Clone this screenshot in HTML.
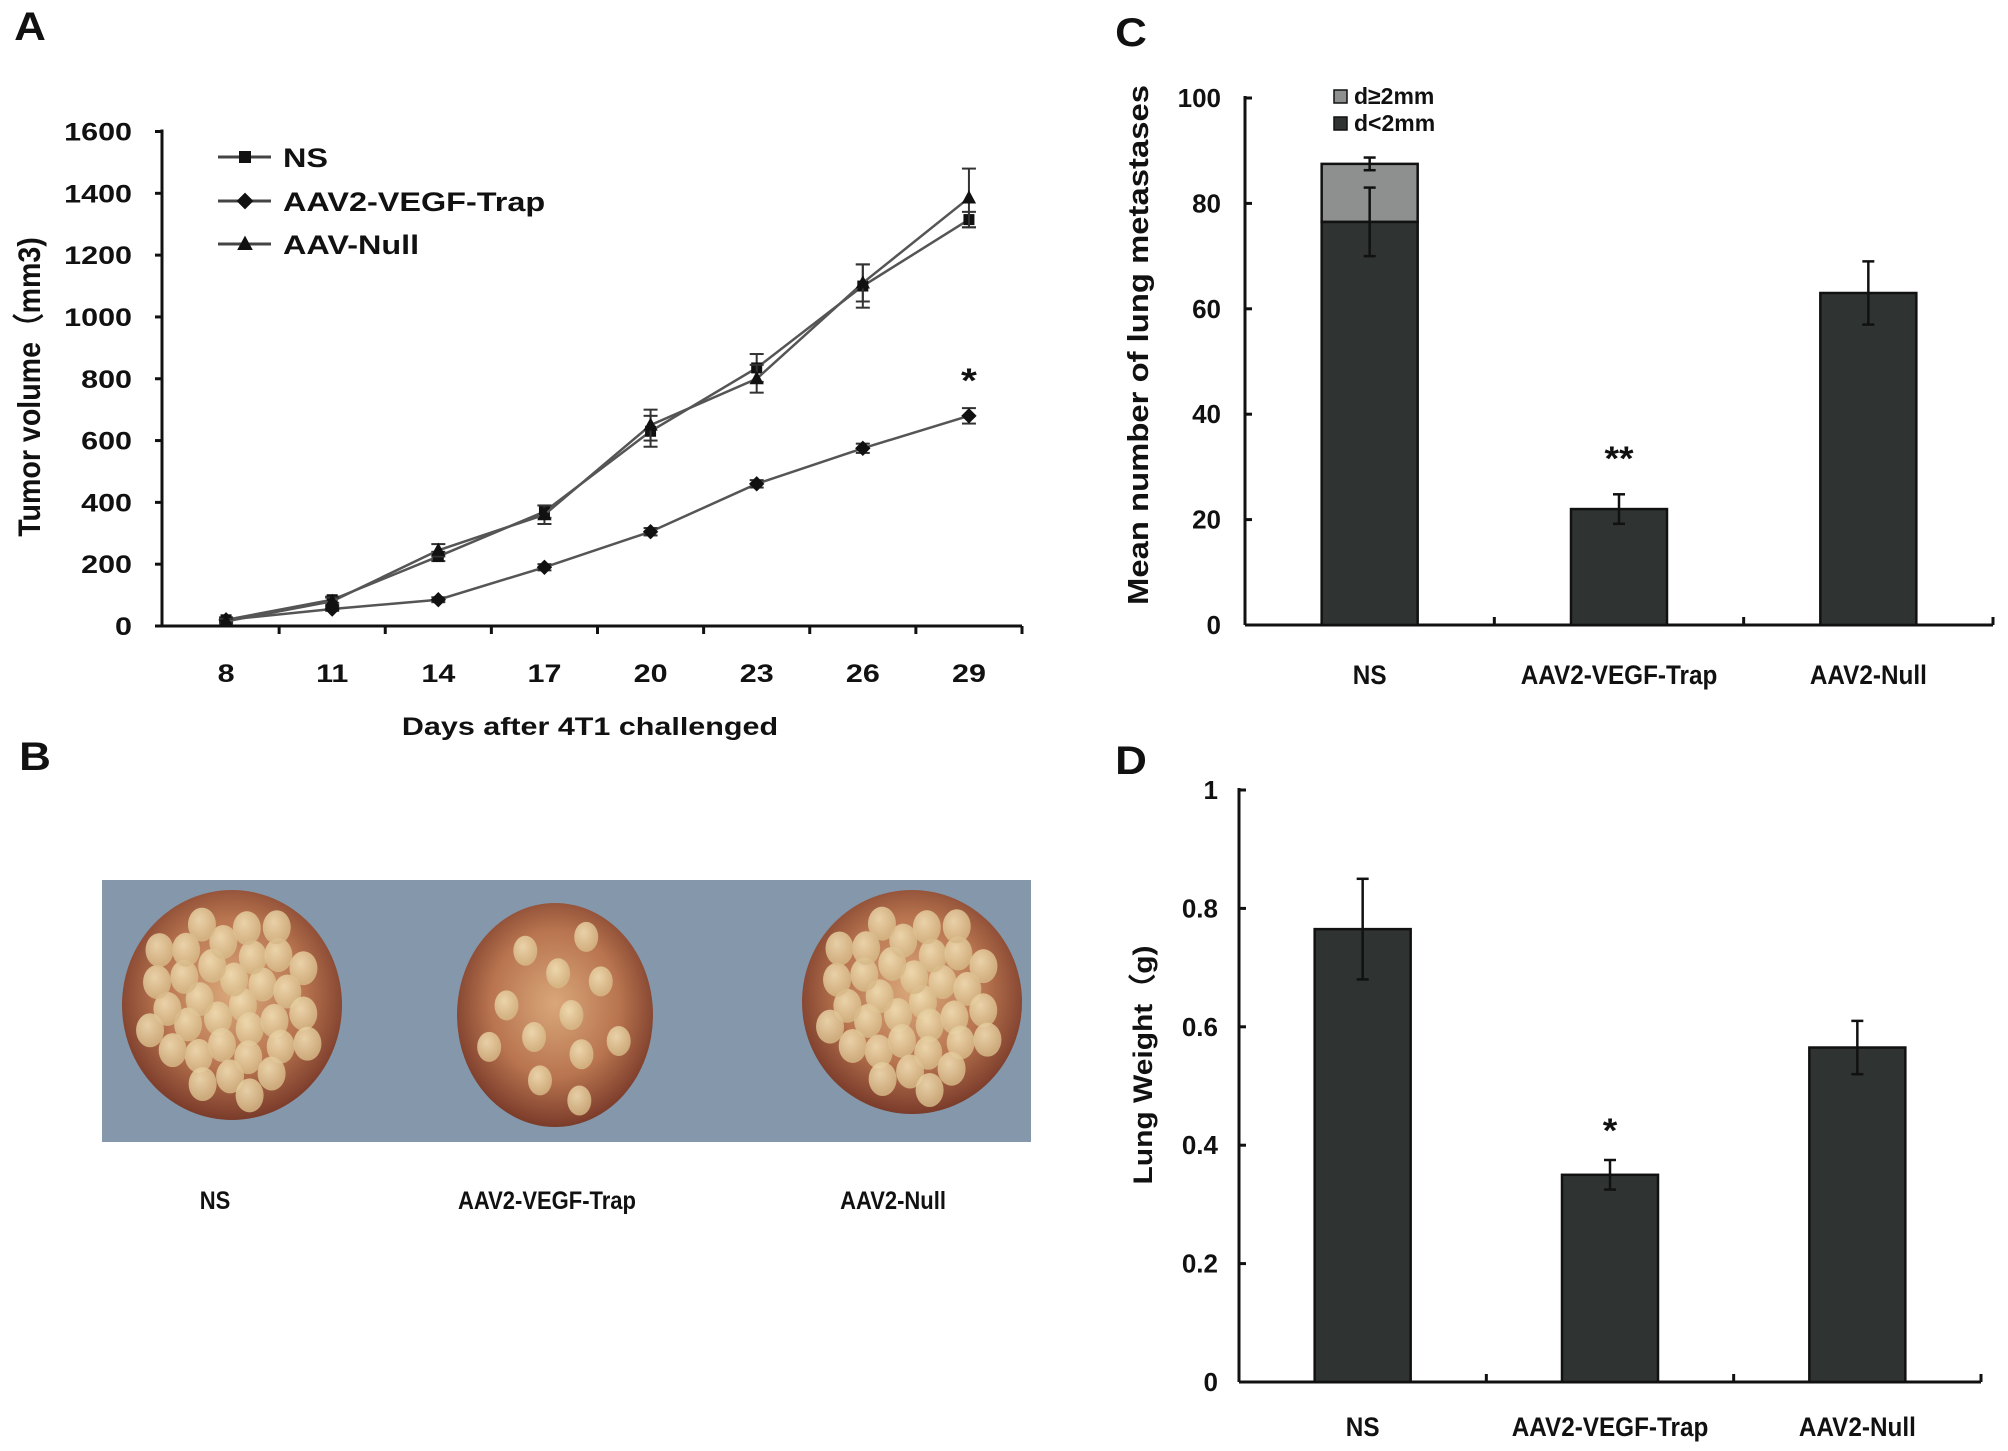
<!DOCTYPE html>
<html><head><meta charset="utf-8"><style>
html,body{margin:0;padding:0;background:#fff;}
svg{display:block;}
text{font-family:"Liberation Sans",Arial,sans-serif;font-weight:bold;fill:#111;}
</style></head><body>
<svg id="fig" width="2008" height="1451" viewBox="0 0 2008 1451" xmlns="http://www.w3.org/2000/svg">
<defs>
<radialGradient id="lungg" cx="50%" cy="45%" r="55%"><stop offset="0%" stop-color="#d9a77a"/><stop offset="60%" stop-color="#b8744f"/><stop offset="100%" stop-color="#7a3b2a"/></radialGradient>
<radialGradient id="nod" cx="40%" cy="35%" r="60%"><stop offset="0%" stop-color="#f3e2b8"/><stop offset="100%" stop-color="#d7b987"/></radialGradient>
<clipPath id="photoclip"><rect x="102" y="880" width="929" height="262"/></clipPath>
</defs>
<g id="panelA"></g>
<g id="panelB"></g>
<g id="panelC"></g>
<g id="panelD"></g>
</svg>
<script>
// ---------- Panel A data ----------
const daysA = ["8","11","14","17","20","23","26","29"];
const yTicksA = [0,200,400,600,800,1000,1200,1400,1600];
const nsVals = [20,85,225,370,630,835,1100,1315];
const nsErr = [8,10,15,20,50,45,70,25];
const vegfVals = [20,55,85,190,305,460,575,680];
const vegfErr = [5,6,8,10,12,12,15,25];
const nullVals = [15,80,245,360,650,800,1110,1385];
const nullErr = [8,12,20,30,50,45,60,95];
const seriesNames = ["NS","AAV2-VEGF-Trap","AAV-Null"];
// ---------- Panel C data ----------
const groupsC = ["NS","AAV2-VEGF-Trap","AAV2-Null"];
const smallVals = [76.5,22,63];
const smallErr = [6.5,2.8,6];
const largeVals = [11,0,0];
const largeErr = [1.2,0,0];
const yTicksC = [0,20,40,60,80,100];
// ---------- Panel D data ----------
const groupsD = ["NS","AAV2-VEGF-Trap","AAV2-Null"];
const weightVals = [0.765,0.35,0.565];
const weightErr = [0.085,0.025,0.045];
const yTicksD = ["0","0.2","0.4","0.6","0.8","1"];

const NS='http://www.w3.org/2000/svg';
function el(parent,tag,attrs){const e=document.createElementNS(NS,tag);for(const k in attrs)e.setAttribute(k,attrs[k]);parent.appendChild(e);return e;}
function txt(parent,x,y,s,size,anchor,sx,name){
  const t=el(parent,'text',{transform:`translate(${x},${y}) scale(${sx||1},1)`,'font-size':size,'text-anchor':anchor||'middle'});
  t.textContent=s;
  
  
  return t;
}
function line(p,x1,y1,x2,y2,w,c,name){const l=el(p,'line',{x1,y1,x2,y2,stroke:c||'#111','stroke-width':w||3});return l;}

// ===== Panel A =====
(function(){
  const g=document.getElementById('panelA');
  const xa=162,x0=173,x1=1022,y0=626,yTop=131.5,ymax=1600;
  const n=daysA.length,cw=(x1-x0)/n;
  const X=i=>x0+cw*(i+0.5);
  const Y=v=>y0-(v/ymax)*(y0-yTop);
  const SX=1.22;
  txt(g,30,40,"A",40,'middle',1.1,'panel-label-a');
  line(g,xa,Y(ymax)-2,xa,y0,3,'#111','y-axis');
  line(g,xa,y0,x1,y0,3,'#111','x-axis');
  yTicksA.forEach(v=>{line(g,xa-7,Y(v),xa,Y(v),3,'#111','y-tick');txt(g,xa-30,Y(v)+9,String(v),25,'end',SX,'y-tick-label');});
  for(let i=1;i<=n;i++){line(g,x0+cw*i,y0,x0+cw*i,y0+8,3,'#111','x-tick');}
  daysA.forEach((d,i)=>txt(g,X(i),682,d,25,'middle',SX,'x-tick-label'));
  txt(g,590,735,"Days after 4T1 challenged",25,'middle',SX,'x-axis-title');
  const yt=txt(g,40,387,"Tumor volume（mm3)",26,'middle',1,'y-axis-title');
  yt.setAttribute('transform','translate(40,387) rotate(-90) scale(1.1,1.2)');
  yt.setAttribute('font-family','"Liberation Sans","Noto Sans CJK SC",sans-serif');
  function marker(p,type,x,y,s){
    let m;
    if(type==='sq') m=el(p,'rect',{x:x-s/2,y:y-s/2,width:s,height:s,fill:'#111'});
    else if(type==='di') m=el(p,'polygon',{points:`${x},${y-s*0.7} ${x+s*0.7},${y} ${x},${y+s*0.7} ${x-s*0.7},${y}`,fill:'#111'});
    else m=el(p,'polygon',{points:`${x},${y-s*0.7} ${x+s*0.65},${y+s*0.5} ${x-s*0.65},${y+s*0.5}`,fill:'#111'});
    
    
  }
  const series=[[nsVals,nsErr,'sq'],[vegfVals,vegfErr,'di'],[nullVals,nullErr,'tri']];
  series.forEach(([vals,err,mk],si)=>{
    const sg=el(g,'g',{});
    
    
    const pl=el(sg,'polyline',{points:vals.map((v,i)=>X(i)+','+Y(v)).join(' '),fill:'none',stroke:'#555','stroke-width':2.5});
    
    
    vals.forEach((v,i)=>{
      const x=X(i);
      line(sg,x,Y(v+err[i]),x,Y(v-err[i]),2,'#333','error-bar');
      line(sg,x-7,Y(v+err[i]),x+7,Y(v+err[i]),2,'#333','error-cap');
      line(sg,x-7,Y(v-err[i]),x+7,Y(v-err[i]),2,'#333','error-cap');
      marker(sg,mk,x,Y(v),11);
    });
  });
  txt(g,X(7),392,"*",34,'middle',1.2,'significance-star');
  const lg=el(g,'g',{});
  
  
  const ly=[157,201,244],mks=['sq','di','tri'];
  seriesNames.forEach((s,i)=>{
    line(lg,218,ly[i],271,ly[i],3,'#444','legend-line');
    marker(lg,mks[i],245,ly[i],12);
    txt(lg,283,ly[i]+10,s,27,'start',1.2,'legend-entry');
  });
})();

// ===== Panel B =====
(function(){
  const g=document.getElementById('panelB');
  txt(g,35,770,"B",40,'middle',1.1,'panel-label-b');
  const r=el(g,'rect',{x:102,y:880,width:929,height:262,fill:'#8597ab'});
  
  
  const ph=el(g,'g',{'clip-path':'url(#photoclip)'});
  
  
  const lungs=[[232,1005,110,115],[555,1015,98,112],[912,1002,110,112]];
  lungs.forEach(([cx,cy,rx,ry],k)=>{
    const e=el(ph,'ellipse',{cx,cy,rx,ry,fill:'url(#lungg)'});
    
    
    const nn=k===1?12:34;
    for(let j=0;j<nn;j++){
      const a=j*2.399, rr=Math.sqrt((j+0.5)/nn)*0.82;
      const c=el(ph,'ellipse',{cx:cx+Math.cos(a)*rx*rr,cy:cy+Math.sin(a)*ry*rr,rx:k===1?12:14,ry:k===1?15:17,fill:'url(#nod)',opacity:0.85});
      
      
    }
  });
  const labs=["NS","AAV2-VEGF-Trap","AAV2-Null"],lx=[215,547,893];
  labs.forEach((s,i)=>txt(g,lx[i],1209,s,25,'middle',0.88,'photo-label'));
})();

// ===== Bar panel helper =====
function barPanel(g,cfg){
  const {x0,x1,y0,yTop,ymax,cats,ticks,tickVals}=cfg;
  const n=cats.length,cw=(x1-x0)/n;
  const X=i=>x0+cw*(i+0.5);
  const Y=v=>y0-(v/ymax)*(y0-yTop);
  line(g,x0,Y(ymax)-2,x0,y0,3,'#111','y-axis');
  line(g,x0,y0,x1,y0,3,'#111','x-axis');
  tickVals.forEach((v,i)=>{line(g,x0,Y(v),x0+7,Y(v),3,'#111','y-tick');txt(g,cfg.labelX,Y(v)+9,ticks[i],26,'end',1,'y-tick-label');});
  for(let i=1;i<=n;i++) line(g,x0+cw*i,y0,x0+cw*i,y0-8,3,'#111','x-tick');
  cats.forEach((c,i)=>txt(g,X(i),cfg.catY,c,27,'middle',0.9,'x-tick-label'));
  return {X,Y,bw:96};
}
function bar(g,x,yTopPx,yBot,w,fill,name){
  const b=el(g,'rect',{x:x-w/2,y:yTopPx,width:w,height:yBot-yTopPx,fill,stroke:'#111','stroke-width':2.5});
  
  
}
function errBar(g,x,yHi,yLo,name){
  line(g,x,yHi,x,yLo,2.5,'#111',name);
  line(g,x-6,yHi,x+6,yHi,2.5,'#111','error-cap');
  line(g,x-6,yLo,x+6,yLo,2.5,'#111','error-cap');
}

// ===== Panel C =====
(function(){
  const g=document.getElementById('panelC');
  txt(g,1131,46,"C",40,'middle',1.1,'panel-label-c');
  const a=barPanel(g,{x0:1245,x1:1993,y0:625,yTop:98,ymax:100,cats:groupsC,ticks:yTicksC.map(String),tickVals:yTicksC,labelX:1221,catY:684});
  groupsC.forEach((c,i)=>{
    const x=a.X(i);
    bar(g,x,a.Y(smallVals[i]),a.Y(0),a.bw,'#2f3332','bar-small-'+i);
    if(largeVals[i]>0){
      const top=smallVals[i]+largeVals[i];
      bar(g,x,a.Y(top),a.Y(smallVals[i]),a.bw,'#8e8f8f','bar-large-'+i);
      errBar(g,x,a.Y(top+largeErr[i]),a.Y(top-largeErr[i]),'error-bar-large');
    }
    errBar(g,x,a.Y(smallVals[i]+smallErr[i]),a.Y(smallVals[i]-smallErr[i]),'error-bar-small');
  });
  txt(g,a.X(1),470,"**",34,'middle',1.1,'significance-stars');
  const yt=txt(g,1148,345,"Mean number of lung metastases",29,'middle',1,'y-axis-title');
  yt.setAttribute('transform','translate(1148,345) rotate(-90)');
  yt.setAttribute('textLength','520');yt.setAttribute('lengthAdjust','spacingAndGlyphs');
  const lg=el(g,'g',{});
  
  
  const s1=el(lg,'rect',{x:1334,y:90,width:13,height:13,fill:'#8e8f8f',stroke:'#111','stroke-width':1.5});
  
  const s2=el(lg,'rect',{x:1334,y:117,width:13,height:13,fill:'#2f3332',stroke:'#111','stroke-width':1.5});
  
  txt(lg,1354,104,"d≥2mm",23,'start',1,'legend-entry');
  txt(lg,1354,131,"d<2mm",23,'start',1,'legend-entry');
})();

// ===== Panel D =====
(function(){
  const g=document.getElementById('panelD');
  txt(g,1131,774,"D",40,'middle',1.1,'panel-label-d');
  const a=barPanel(g,{x0:1239,x1:1981,y0:1382,yTop:790,ymax:1,cats:groupsD,ticks:yTicksD,tickVals:yTicksD.map(Number),labelX:1218,catY:1436});
  groupsD.forEach((c,i)=>{
    const x=a.X(i);
    bar(g,x,a.Y(weightVals[i]),a.Y(0),a.bw,'#2f3332','bar-'+i);
    errBar(g,x,a.Y(weightVals[i]+weightErr[i]),a.Y(weightVals[i]-weightErr[i]),'error-bar');
  });
  txt(g,a.X(1),1142,"*",34,'middle',1.1,'significance-star');
  const yt=txt(g,1152,1065,"Lung Weight（g)",27,'middle',1,'y-axis-title');
  yt.setAttribute('transform','translate(1152,1065) rotate(-90)');
  yt.setAttribute('font-family','"Liberation Sans","Noto Sans CJK SC",sans-serif');
  yt.setAttribute('textLength','239');yt.setAttribute('lengthAdjust','spacingAndGlyphs');
})();
</script>
</body></html>
